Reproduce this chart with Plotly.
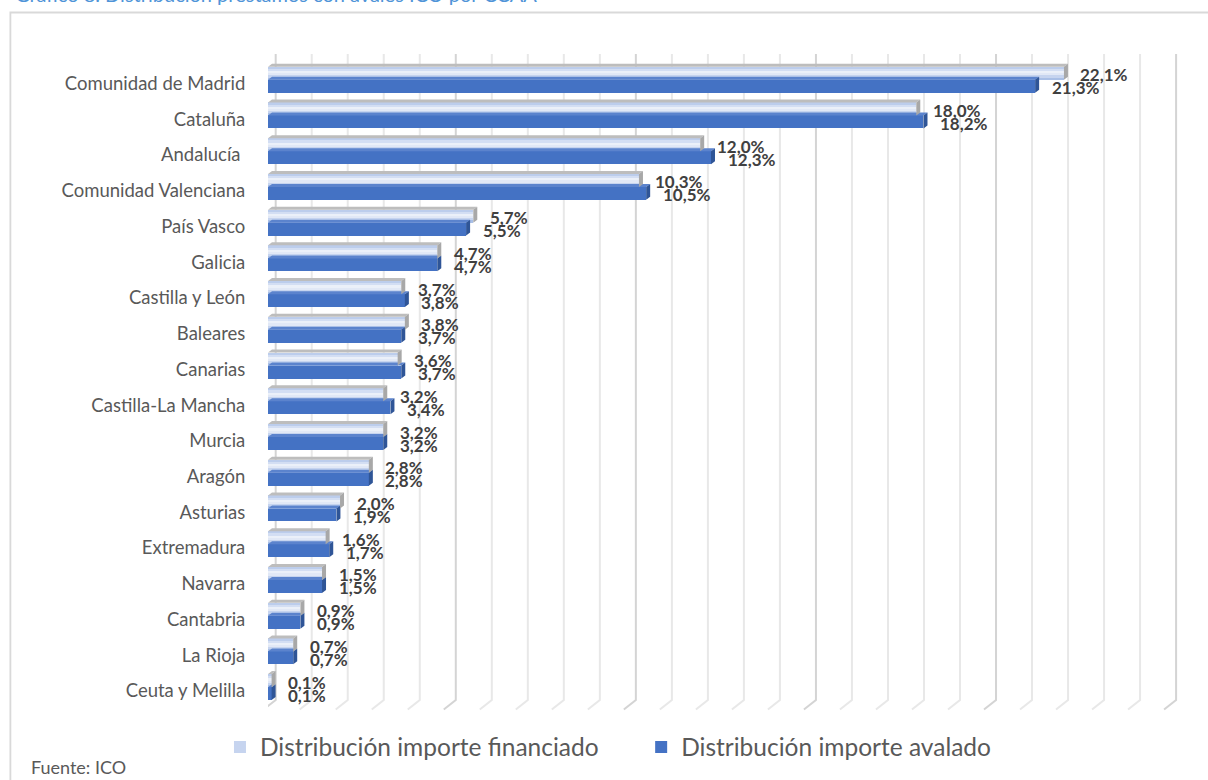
import plotly.graph_objects as go

# ---------------- data ----------------
categorias = ["Comunidad de Madrid", "Cataluña", "Andalucía\u00a0", "Comunidad Valenciana",
              "País Vasco", "Galicia", "Castilla y León", "Baleares", "Canarias",
              "Castilla-La Mancha", "Murcia", "Aragón", "Asturias", "Extremadura",
              "Navarra", "Cantabria", "La Rioja", "Ceuta y Melilla"]
financiado = [22.1, 18.0, 12.0, 10.3, 5.7, 4.7, 3.7, 3.8, 3.6, 3.2, 3.2, 2.8, 2.0, 1.6, 1.5, 0.9, 0.7, 0.1]
avalado = [21.3, 18.2, 12.3, 10.5, 5.5, 4.7, 3.8, 3.7, 3.7, 3.4, 3.2, 2.8, 1.9, 1.7, 1.5, 0.9, 0.7, 0.1]
grid_ticks = list(range(0, 26))
serie_nombres = ["Distribución importe financiado", "Distribución importe avalado"]
titulo = "Gráfico 8. Distribución préstamos con avales ICO por CCAA"
fuente = "Fuente: ICO"

# ---------------- layout geometry ----------------
W, H = 1208, 780
L_PX = 268.0          # pixel of value 0 (front plane)
PXX = 36.0            # pixels per 1 %
X_MAX = 25.6
R_PX = W - (L_PX + PXX * X_MAX)
T_PX, B_PX = 51, 718
CAT0_PX, PXY = 83.5, 35.73
y_top = (T_PX - CAT0_PX) / PXY
y_bot = (B_PX - CAT0_PX) / PXY


def dx(px):
    return px / PXX


def dy(px):
    return px / PXY


def paper_x(px):
    return (px - L_PX) / (PXX * X_MAX)


def paper_y(py):
    return (B_PX - py) / (B_PX - T_PX)


pos = list(range(len(categorias)))
LIGHT_TOP, MID, BLUE_BOT = -0.47, -0.105, 0.257
DX, DY = dx(4), dy(3)

FONT = "Lato"
fig = go.Figure()


def top_face(vals, edge):
    xs, ys = [], []
    for v, p in zip(vals, pos):
        y0 = p + edge
        xs += [0, DX, v + DX, v, 0, None]
        ys += [y0, y0 - DY, y0 - DY, y0, y0, None]
    return xs, ys


def side_face(vals, e0, e1):
    xs, ys = [], []
    for v, p in zip(vals, pos):
        a, b = p + e0, p + e1
        xs += [v, v + DX, v + DX, v, v, None]
        ys += [a, a - DY, b - DY, b, a, None]
    return xs, ys


def poly(xy, color):
    fig.add_trace(go.Scatter(x=xy[0], y=xy[1], mode="lines", fill="toself",
                             fillcolor=color, line=dict(width=0, color=color),
                             hoverinfo="skip", showlegend=False))


# blue bar hidden faces first
poly(top_face(avalado, MID), "#5b83cd")
poly(side_face(avalado, MID, BLUE_BOT), "#2f5597")
# light bar faces
poly(top_face(financiado, LIGHT_TOP), "#bdbdbd")
poly(side_face(financiado, LIGHT_TOP, MID), "#a8a8a8")

# light bar front with gradient stripes
stripes = ["#bccdec", "#d3def3", "#ebf0f9", "#e1e8f6", "#c6d4ef", "#a9bfe6"]
sh = (MID - LIGHT_TOP) / len(stripes)
for k, c in enumerate(stripes):
    fig.add_trace(go.Bar(
        x=financiado, y=pos, base=0, orientation="h",
        offset=LIGHT_TOP + k * sh, width=sh + 0.002,
        marker=dict(color=c, line=dict(width=0)),
        name=serie_nombres[0], legend="legend",
        showlegend=(k == 4), hoverinfo="skip"))

fig.add_trace(go.Bar(
    x=avalado, y=pos, base=0, orientation="h",
    offset=MID, width=BLUE_BOT - MID,
    marker=dict(color="#4472c4", line=dict(width=0)),
    name=serie_nombres[1], legend="legend2", showlegend=True, hoverinfo="skip"))

# ---------------- gridlines (3D back wall + floor) ----------------
shapes = []
GX = dx(7.7)
g_top = (54 - CAT0_PX) / PXY
g_bot = (700 - CAT0_PX) / PXY
g_end = (709.5 - CAT0_PX) / PXY
for t in grid_ticks:
    col = "#d4d4d4" if t % 5 == 0 else "#e8e8e8"
    x = t + GX
    shapes.append(dict(type="path", xref="x", yref="y", layer="below",
                       path=f"M{x},{g_top} L{x},{g_bot} L{x - dx(12)},{g_end}",
                       line=dict(color=col, width=2)))

# outer frame (left + top border)
shapes.append(dict(type="path", xref="paper", yref="paper",
                   path=f"M{paper_x(10.5)},{paper_y(800)} L{paper_x(10.5)},{paper_y(12.5)} L{paper_x(1230)},{paper_y(12.5)}",
                   line=dict(color="#d9d9d9", width=1.8)))

# ---------------- annotations ----------------
ann = []


def fmt(v):
    return f"{v:.1f}".replace(".", ",") + "%"


for v, p in zip(financiado, pos):
    ann.append(dict(x=v + dx(14.5), y=p + (LIGHT_TOP + MID) / 2 + dy(1.5), xref="x", yref="y",
                    text=fmt(v), showarrow=False, xanchor="left", yanchor="middle",
                    font=dict(family=FONT, size=17, color="#404040", weight="bold")))
for v, p in zip(avalado, pos):
    ann.append(dict(x=v + dx(14.5), y=p + (MID + BLUE_BOT) / 2 + dy(1.5), xref="x", yref="y",
                    text=fmt(v), showarrow=False, xanchor="left", yanchor="middle",
                    font=dict(family=FONT, size=17, color="#404040", weight="bold")))

ann.append(dict(x=paper_x(13), y=paper_y(8), xref="paper", yref="paper", text=titulo,
                showarrow=False, xanchor="left", yanchor="bottom",
                font=dict(family=FONT, size=20, color="#4f94d8")))
ann.append(dict(x=paper_x(29), y=paper_y(767), xref="paper", yref="paper", text=fuente,
                showarrow=False, xanchor="left", yanchor="middle",
                font=dict(family=FONT, size=18, color="#595959")))

fig.update_layout(
    width=W, height=H,
    margin=dict(l=L_PX, r=R_PX, t=T_PX, b=H - B_PX, pad=0, autoexpand=False),
    paper_bgcolor="white", plot_bgcolor="white",
    barmode="overlay", bargap=0,
    shapes=shapes, annotations=ann,
    xaxis=dict(range=[0, X_MAX], visible=False, fixedrange=True),
    yaxis=dict(range=[y_bot, y_top], tickvals=pos, ticktext=categorias,
               ticks="outside", ticklen=18, tickcolor="rgba(0,0,0,0)",
               showgrid=False, zeroline=False, showline=False,
               tickfont=dict(family=FONT, size=18.5, color="#595959"), fixedrange=True),
    legend=dict(x=paper_x(220), y=paper_y(747), xanchor="left", yanchor="middle",
                orientation="h", bgcolor="rgba(0,0,0,0)",
                font=dict(family=FONT, size=24.5, color="#595959")),
    legend2=dict(x=paper_x(641), y=paper_y(747), xanchor="left", yanchor="middle",
                 orientation="h", bgcolor="rgba(0,0,0,0)",
                 font=dict(family=FONT, size=24.5, color="#595959")),
    showlegend=True,
)

fig.write_html("out.html", config={"displayModeBar": False},
               post_script="document.body.style.margin='0';document.documentElement.style.overflow='hidden';")
